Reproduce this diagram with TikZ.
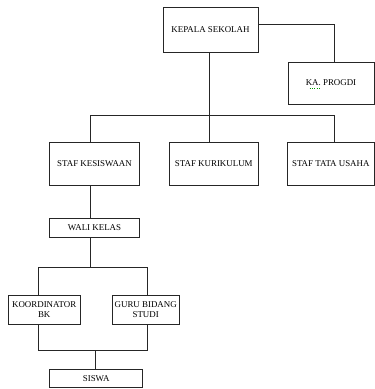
\documentclass[tikz,border=0pt]{standalone}
\usepackage{fontspec}
\setmainfont{Liberation Serif}
\begin{document}
\begin{tikzpicture}[x=1pt,y=-1pt,
  box/.style={draw=black!85,line width=0.8pt,inner sep=0pt,align=center,font=\fontsize{8.9}{10}\selectfont},
  conn/.style={draw=black!85,line width=0.8pt}]
\useasboundingbox (0,0) rectangle (375,389);
\node[box,minimum width=95pt,minimum height=45pt] (kepala) at (210.5,29.5) {KEPALA SEKOLAH};
\node[box,minimum width=86pt,minimum height=42pt] (progdi) at (331,83) {KA. PROGDI};
\node[box,minimum width=89.5pt,minimum height=43pt] (kes) at (94.5,163.5) {STAF KESISWAAN};
\node[box,minimum width=89.5pt,minimum height=43pt] (kur) at (213.8,163.5) {STAF KURIKULUM};
\node[box,minimum width=86.5pt,minimum height=43pt] (tu) at (330.8,163.5) {STAF TATA USAHA};
\node[box,minimum width=89.5pt,minimum height=19pt] (wali) at (94.5,227.8) {WALI KELAS};
\node[box,minimum width=71.5pt,minimum height=29pt] (koord) at (44.2,309.5) {KOORDINATOR\\BK};
\node[box,minimum width=66.5pt,minimum height=29pt] (guru) at (145.7,309.5) {GURU BIDANG\\STUDI};
\node[box,minimum width=93pt,minimum height=18pt] (siswa) at (96.2,378.3) {SISWA};
% spell-check squiggle under KA
\draw[green!60!black,line width=0.4pt,dotted] (309.5,88.5) -- (320,88.5);
% bus coordinates
\coordinate (pk) at (334,24);
\coordinate (j1) at (209,115.5);
\coordinate (b1l) at (90.7,115.5);
\coordinate (b1r) at (334.3,115.5);
\coordinate (j2) at (90.7,267.3);
\coordinate (b2l) at (38.3,267.3);
\coordinate (b2r) at (147.7,267.3);
\coordinate (j3) at (95.7,350);
\coordinate (b3l) at (38.3,350);
\coordinate (b3r) at (147.7,350);
% connectors
\draw[conn] (kepala.east |- pk) -- (pk) -- (progdi.north -| pk);
\draw[conn] (kepala.south -| j1) -- (j1);
\draw[conn] (kes.north -| b1l) -- (b1l) -- (b1r) -- (tu.north -| b1r);
\draw[conn] (j1) -- (kur.north -| j1);
\draw[conn] (kes.south -| b1l) -- (wali.north -| b1l);
\draw[conn] (wali.south -| j2) -- (j2);
\draw[conn] (koord.north -| b2l) -- (b2l) -- (b2r) -- (guru.north -| b2r);
\draw[conn] (koord.south -| b3l) -- (b3l) -- (b3r) -- (guru.south -| b3r);
\draw[conn] (j3) -- (siswa.north -| j3);
\end{tikzpicture}
\end{document}
